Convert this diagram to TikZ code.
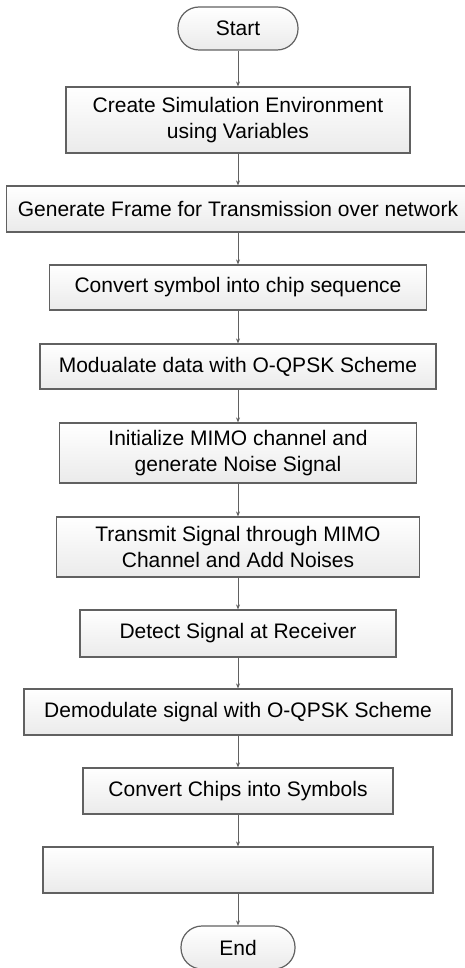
\documentclass[tikz,border=0pt]{standalone}
\usepackage{fontspec}
\setmainfont{Liberation Sans}
\usetikzlibrary{arrows.meta}
\begin{document}
\begin{tikzpicture}[x=1pt,y=-1pt,
  box/.style={draw=black!62, line width=1.2pt, top color=white, bottom color=black!8,
    inner sep=0pt, align=center, font=\fontsize{21}{26.5}\selectfont, text=black},
  term/.style={box, rounded corners=21pt},
  link/.style={draw=black!62, line width=1pt, -{Stealth[length=5pt,width=4pt]}}]
\useasboundingbox (0,0) rectangle (465,968);
\fill[white] (0,0) rectangle (465,968);
\node[term, minimum width=120pt, minimum height=43pt] (start) at (238,28.5) {Start};
\node[box, minimum width=344pt, minimum height=66pt] (b1) at (238,120) {Create Simulation Environment\\using Variables};
\node[box, minimum width=463pt, minimum height=46pt] (b2) at (238,209) {Generate Frame for Transmission over network};
\node[box, minimum width=377pt, minimum height=45pt] (b3) at (238,287.5) {Convert symbol into chip sequence};
\node[box, minimum width=396pt, minimum height=45pt] (b4) at (238,366.5) {Modualate data with O-QPSK Scheme};
\node[box, minimum width=357pt, minimum height=60pt] (b5) at (238,453) {Initialize MIMO channel and\\generate Noise Signal};
\node[box, minimum width=363pt, minimum height=60pt] (b6) at (238,547) {Transmit Signal through MIMO\\Channel and Add Noises};
\node[box, minimum width=316pt, minimum height=47pt] (b7) at (238,633.5) {Detect Signal at Receiver};
\node[box, minimum width=428pt, minimum height=46pt] (b8) at (238,712) {Demodulate signal with O-QPSK Scheme};
\node[box, minimum width=310pt, minimum height=46pt] (b9) at (238,791) {Convert Chips into Symbols};
\node[box, minimum width=390pt, minimum height=46pt] (b10) at (238,870) {};
\node[term, minimum width=114pt, minimum height=43pt] (end) at (238,947.5) {End};
\draw[link] (start) -- (b1);
\draw[link] (b1) -- (b2);
\draw[link] (b2) -- (b3);
\draw[link] (b3) -- (b4);
\draw[link] (b4) -- (b5);
\draw[link] (b5) -- (b6);
\draw[link] (b6) -- (b7);
\draw[link] (b7) -- (b8);
\draw[link] (b8) -- (b9);
\draw[link] (b9) -- (b10);
\draw[link] (b10) -- (end);
\end{tikzpicture}
\end{document}
